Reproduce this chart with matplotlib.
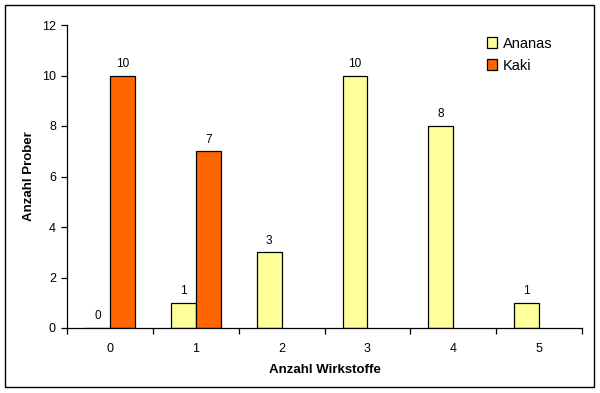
import numpy as np
import matplotlib
matplotlib.use('Agg')
import matplotlib.pyplot as plt
from matplotlib.patches import Rectangle

plt.rcParams['font.family'] = ['Liberation Sans', 'DejaVu Sans']

# data
categories = ['0', '1', '2', '3', '4', '5']
ananas = [0, 1, 3, 10, 8, 1]
kaki = [10, 7, np.nan, np.nan, np.nan, np.nan]   # blank cells in the source
yticks = [0, 2, 4, 6, 8, 10, 12]

ananas_color = '#FFFF99'
kaki_color = '#FF6600'

fig = plt.figure(figsize=(6, 3.93), dpi=100)
ax = fig.add_axes([67/600, 1 - 328/393, 515/600, 303/393])

x = np.arange(len(categories))
w = 0.29
b1 = ax.bar(x - w/2, ananas, w, color=ananas_color, edgecolor='black', linewidth=0.9, label='Ananas')
b2 = ax.bar(x + w/2, kaki, w, color=kaki_color, edgecolor='black', linewidth=0.9, label='Kaki')

for rect, v in zip(b1, ananas):
    ax.annotate(f'{v:g}', (rect.get_x() + rect.get_width()/2, v), xytext=(0, 4),
                textcoords='offset points', ha='center', va='bottom', fontsize=8.5)
for rect, v in zip(b2, kaki):
    if np.isnan(v):
        continue
    ax.annotate(f'{v:g}', (rect.get_x() + rect.get_width()/2, v), xytext=(0, 4),
                textcoords='offset points', ha='center', va='bottom', fontsize=8.5)

ax.set_xlim(-0.5, len(categories) - 0.5)
ax.set_ylim(0, 12)
ax.set_yticks(yticks)
ax.set_yticklabels([str(t) for t in yticks], fontsize=9)
ax.set_xticks(x)
ax.set_xticklabels(categories, fontsize=9)
ax.set_xticks(np.arange(len(categories) + 1) - 0.5, minor=True)
ax.tick_params(axis='x', which='major', length=0, pad=11)
ax.tick_params(axis='x', which='minor', length=4, direction='out', width=0.9)
ax.tick_params(axis='y', length=4, direction='out', width=0.9, pad=4)

for s in ['top', 'right']:
    ax.spines[s].set_visible(False)
for s in ['left', 'bottom']:
    ax.spines[s].set_linewidth(0.9)

ax.set_xlabel('Anzahl Wirkstoffe', fontsize=9.5, fontweight='bold', labelpad=6)
ax.set_ylabel('Anzahl Prober', fontsize=9.5, fontweight='bold', labelpad=5)

ax.legend(loc='upper left', bbox_to_anchor=(0.79, 1.005), frameon=False, fontsize=10.5,
          handlelength=0.7, handleheight=0.7, handletextpad=0.4, labelspacing=0.55)

# outer chart border
fig.patches.append(Rectangle((5/600, 1 - 387/393), 589/600, 382/393, transform=fig.transFigure,
                             fill=False, edgecolor='black', linewidth=1.0))

fig.savefig('out.png', dpi=100)
